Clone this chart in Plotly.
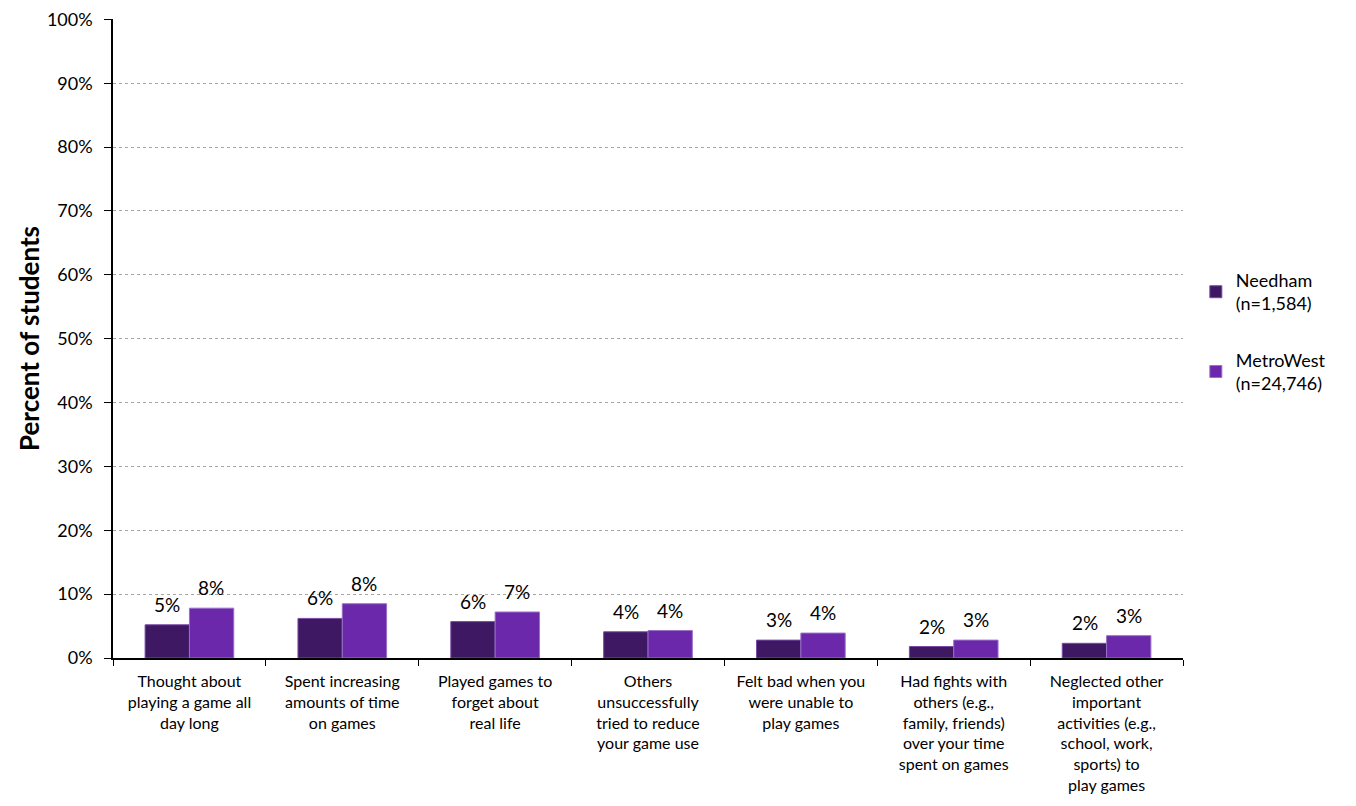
import plotly.graph_objects as go

categories = [
    "Thought about<br>playing a game all<br>day long",
    "Spent increasing<br>amounts of time<br>on games",
    "Played games to<br>forget about<br>real life",
    "Others<br>unsuccessfully<br>tried to reduce<br>your game use",
    "Felt bad when you<br>were unable to<br>play games",
    "Had fights with<br>others (e.g.,<br>family, friends)<br>over your time<br>spent on games",
    "Neglected other<br>important<br>activities (e.g.,<br>school, work,<br>sports) to<br>play games",
]
needham = [5.2, 6.2, 5.7, 4.1, 2.8, 1.8, 2.3]
metrowest = [7.8, 8.5, 7.2, 4.3, 3.9, 2.8, 3.5]
needham_labels = ["5%", "6%", "6%", "4%", "3%", "2%", "2%"]
metrowest_labels = ["8%", "8%", "7%", "4%", "4%", "3%", "3%"]
yticks = [0, 10, 20, 30, 40, 50, 60, 70, 80, 90, 100]
ytick_text = [f"{v}%" for v in yticks]

FONT = "Lato"
BAR_HALF = 22  # px offset of each bar centre from category centre

fig = go.Figure()
fig.add_trace(go.Bar(
    x=categories, y=needham, name="Needham<br>(n=1,584)",
    marker=dict(color="#3E1862", line=dict(color="#7B4BA8", width=1)),
    legendgroup="a",
))
fig.add_trace(go.Bar(
    x=categories, y=metrowest, name="MetroWest<br>(n=24,746)",
    marker=dict(color="#6B28AB", line=dict(color="#9A70C8", width=1)),
    legendgroup="b",
))

for vals, labels, shift in [(needham, needham_labels, -BAR_HALF),
                            (metrowest, metrowest_labels, BAR_HALF)]:
    for cat, v, lab in zip(categories, vals, labels):
        fig.add_annotation(
            x=cat, y=v, text=lab, showarrow=False,
            xanchor="center", yanchor="bottom", xshift=shift, yshift=7,
            font=dict(size=19, color="black", family=FONT),
        )

fig.update_layout(
    width=1348, height=798,
    margin=dict(l=105, r=173, t=11, b=148),
    plot_bgcolor="white", paper_bgcolor="white",
    barmode="group", bargap=0.42, bargroupgap=0,
    font=dict(family=FONT, color="black", size=16),
    showlegend=True,
    legend=dict(
        x=1.012, y=0.62, xanchor="left", yanchor="top",
        font=dict(size=18, family=FONT), tracegroupgap=30,
        itemwidth=30,
    ),
)
fig.update_yaxes(
    range=[0, 100.05], tickvals=yticks, ticktext=ytick_text, automargin=False,
    ticklabeloverflow="allow",
    showgrid=True, gridcolor="#A6A6A6", griddash="dot", gridwidth=1,
    showline=True, linecolor="black", linewidth=1.5,
    ticks="outside", ticklen=7, tickcolor="black", ticklabelstandoff=8,
    tickfont=dict(size=18, family=FONT),
    title=dict(text="<b>Percent of students</b>", font=dict(size=26, family=FONT), standoff=0),
    zeroline=False,
)
fig.update_xaxes(
    automargin=False,
    showline=True, linecolor="black", linewidth=1.5,
    ticks="outside", ticklen=6, tickcolor="black", tickson="boundaries",
    ticklabelstandoff=8,
    tickfont=dict(size=16, family=FONT), tickangle=0,
)

fig.write_html("out.html")
